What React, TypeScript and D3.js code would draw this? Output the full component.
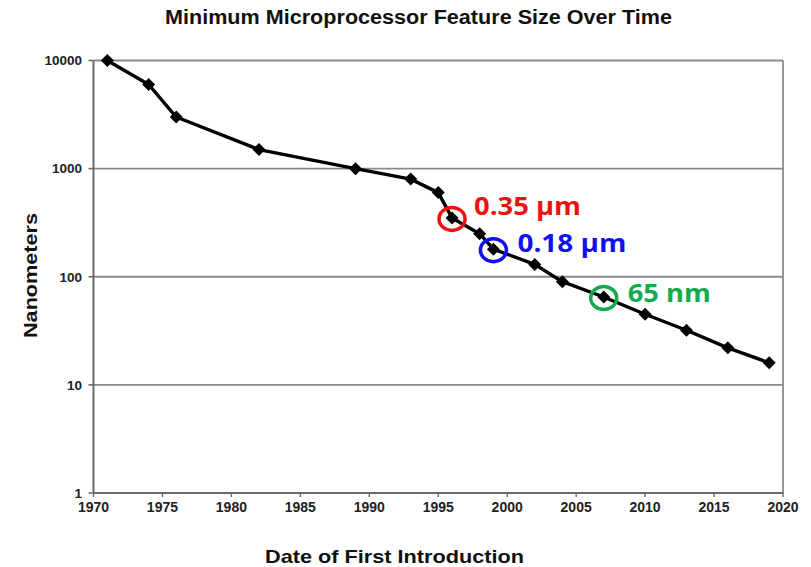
import React from "react";
import * as d3 from "d3";

// Intel-style process node history: year of first introduction vs. feature size (nm)
const years = [1971, 1974, 1976, 1982, 1989, 1993, 1995, 1996, 1998, 1999, 2002, 2004, 2007, 2010, 2013, 2016, 2019];
const sizesNm = [10000, 6000, 3000, 1500, 1000, 800, 600, 350, 250, 180, 130, 90, 65, 45, 32, 22, 16];

const yTicks = [1, 10, 100, 1000, 10000];
const xTicks = [1970, 1975, 1980, 1985, 1990, 1995, 2000, 2005, 2010, 2015, 2020];

// Highlighted nodes with their callout text
const highlightYears = [1996, 1999, 2007];
const highlightLabels = ["0.35 μm", "0.18 μm", "65 nm"];
const highlightColors = ["#ee1111", "#1111ee", "#11aa4c"];

const W = 811;
const H = 567;
const left = 93.5;
const right = 783;
const top = 60.5;
const bottom = 493;

export default function App() {
  const x = d3.scaleLinear().domain([1970, 2020]).range([left, right]);
  const y = d3.scaleLog().domain([1, 10000]).range([bottom, top]);

  const pts = years.map((yr, i) => [x(yr), y(sizesNm[i])] as [number, number]);
  const line = d3.line()(pts) as string;
  const diamond = (cx: number, cy: number, r: number) =>
    `M${cx},${cy - r}L${cx + r},${cy}L${cx},${cy + r}L${cx - r},${cy}Z`;

  const sans = "'Liberation Sans', Arial, sans-serif";
  const callFont = "'Open Sans', 'Noto Sans', sans-serif";

  // callout text offsets relative to the circled point, with rendered widths
  const labelDx = [22, 24, 24];
  const labelDy = [-3, 3, 5];
  const labelLen = [107, 109, 83];

  return (
    <svg width={W} height={H} style={{ position: "absolute", left: 0, top: 0, background: "#fff" }}>
      <rect width={W} height={H} fill="#fff" />
      <text x={165} y={24} fontFamily={sans} fontWeight="bold" fontSize={19.5} fill="#111"
        textLength={507} lengthAdjust="spacingAndGlyphs">
        Minimum Microprocessor Feature Size Over Time
      </text>

      {/* grid lines and frame */}
      {yTicks.slice(1).map((t) => (
        <line key={t} x1={left} x2={right} y1={y(t)} y2={y(t)} stroke="#8a8a8a" strokeWidth={1.8} />
      ))}
      <line x1={right} x2={right} y1={top} y2={bottom} stroke="#8a8a8a" strokeWidth={1.8} />
      <line x1={left} x2={left} y1={top} y2={bottom} stroke="#6a6a6a" strokeWidth={2} />
      <line x1={left} x2={right} y1={bottom} y2={bottom} stroke="#6a6a6a" strokeWidth={2} />

      {/* y axis */}
      {yTicks.map((t) => (
        <g key={t}>
          <line x1={left - 5} x2={left} y1={y(t)} y2={y(t)} stroke="#6a6a6a" strokeWidth={1.6} />
          <text x={82} y={y(t)} dy="0.36em" textAnchor="end" fontFamily={sans} fontWeight="bold" fontSize={13.5} fill="#222">
            {t}
          </text>
        </g>
      ))}
      {/* x axis */}
      {xTicks.map((t) => (
        <g key={t}>
          <line x1={x(t)} x2={x(t)} y1={bottom} y2={bottom + 4} stroke="#6a6a6a" strokeWidth={1.4} />
          <text x={x(t)} y={512} textAnchor="middle" fontFamily={sans} fontWeight="bold" fontSize={14} fill="#222">
            {t}
          </text>
        </g>
      ))}

      <text transform={`translate(36.5,275.5) rotate(-90)`} textAnchor="middle" fontFamily={sans} fontWeight="bold" fontSize={19} fill="#111"
        textLength={125} lengthAdjust="spacingAndGlyphs">
        Nanometers
      </text>
      <text x={265} y={563} fontFamily={sans} fontWeight="bold" fontSize={19} fill="#111"
        textLength={259} lengthAdjust="spacingAndGlyphs">
        Date of First Introduction
      </text>

      {/* series */}
      <path d={line} fill="none" stroke="#000" strokeWidth={3.4} strokeLinejoin="round" />
      {pts.map(([cx, cy], i) => (
        <path key={i} d={diamond(cx, cy, 6.5)} fill="#000" />
      ))}

      {/* callouts */}
      {highlightYears.map((yr, i) => {
        const idx = years.indexOf(yr);
        const cx = x(yr);
        const cy = y(sizesNm[idx]);
        return (
          <g key={yr}>
            <ellipse cx={cx} cy={cy + 1} rx={13} ry={11.5} fill="none" stroke={highlightColors[i]} strokeWidth={3.5} />
            <text x={cx + labelDx[i]} y={cy + labelDy[i]} fontFamily={callFont} fontWeight="bold" fontSize={24.5}
              fill={highlightColors[i]} textLength={labelLen[i]} lengthAdjust="spacingAndGlyphs">
              {highlightLabels[i]}
            </text>
          </g>
        );
      })}
    </svg>
  );
}
